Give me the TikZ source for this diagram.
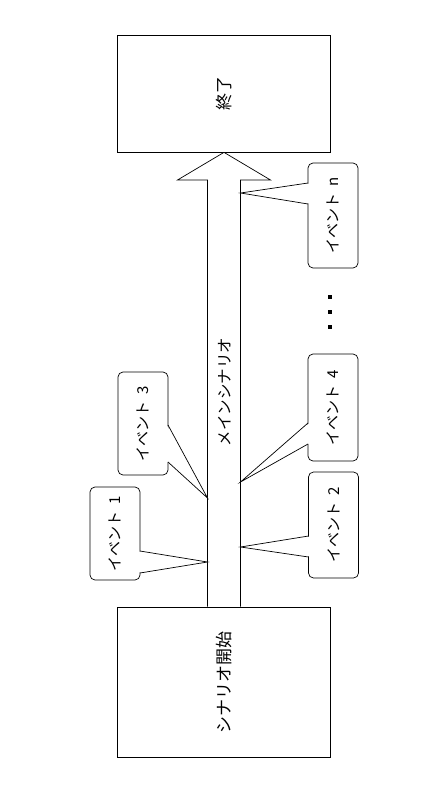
\documentclass[tikz,border=0pt]{standalone}
\usepackage{fontspec}
\setmainfont{Noto Sans CJK JP}
\begin{document}
\begin{tikzpicture}[x=1pt, y=-1pt, line width=0.7pt,
    box/.style={draw, rectangle, minimum width=213pt, inner sep=0pt, font=\fontsize{17}{17}\selectfont},
    ev/.style={draw, rectangle, rounded corners=5pt, rotate=90, minimum height=50pt, inner sep=0pt, fill=white, font=\fontsize{15}{15}\selectfont}]
    \useasboundingbox (0,0) rectangle (441,795);

    % --- boxes ---
    \node[box, minimum height=117pt] (end) at (224,93.5) {\rotatebox{90}{終了}};
    \node[box, minimum height=150pt] (start) at (224,682) {\rotatebox{90}{シナリオ開始}};

    % --- main arrow ---
    \draw[fill=white] (207.5,0 |- start.north) -- (207.5,180) -- (177.5,180) -- (end.south -| 224,0)
        -- (270.5,180) -- (240.5,180) -- (240.5,0 |- start.north);
    \node[draw=none, rotate=90, font=\fontsize{15.5}{15.5}\selectfont] (mainlbl) at (225,392) {メインシナリオ};

    % --- tips on the shaft ---
    \coordinate (t1) at (207.5,562);
    \coordinate (t3) at (207.5,498);
    \coordinate (t2) at (240.5,547);
    \coordinate (t4) at (240.5,482);
    \coordinate (tn) at (240.5,193);

    % --- events ---
    \node[ev, minimum width=93pt] (e1) at (115,533.5) {イベント\hspace{0.45em}1};
    \node[ev, minimum width=103pt] (e3) at (143,423.5) {イベント\hspace{0.45em}3};
    \node[ev, minimum width=106pt] (e2) at (333.5,525) {イベント\hspace{0.45em}2};
    \node[ev, minimum width=107pt] (e4) at (333,407.5) {イベント\hspace{0.45em}4};
    \node[ev, minimum width=105pt] (en) at (333,215.5) {イベント\hspace{0.45em}n};

    % --- pointers ---
    \fill[white] (139,551.5) -- (t1) -- (139,572.5) -- cycle;
    \draw (140,551) -- (t1) -- (140,573);
    \fill[white] (167,425.5) -- (t3) -- (167,461.5) -- cycle;
    \draw (168,425) -- (t3) -- (168,462);
    \fill[white] (309.5,536.5) -- (t2) -- (309.5,556.5) -- cycle;
    \draw (308.5,536) -- (t2) -- (308.5,557);
    \fill[white] (309,423.5) -- (t4) -- (309,443.5) -- cycle;
    \draw (308,423) -- (t4) -- (308,444);
    \fill[white] (309,183.5) -- (tn) -- (309,203.5) -- cycle;
    \draw (308,183) -- (tn) -- (308,204);

    % --- dots ---
    \foreach \y in {297,312,327}
        \fill (328,\y-2) rectangle (332,\y+2);
\end{tikzpicture}
\end{document}
